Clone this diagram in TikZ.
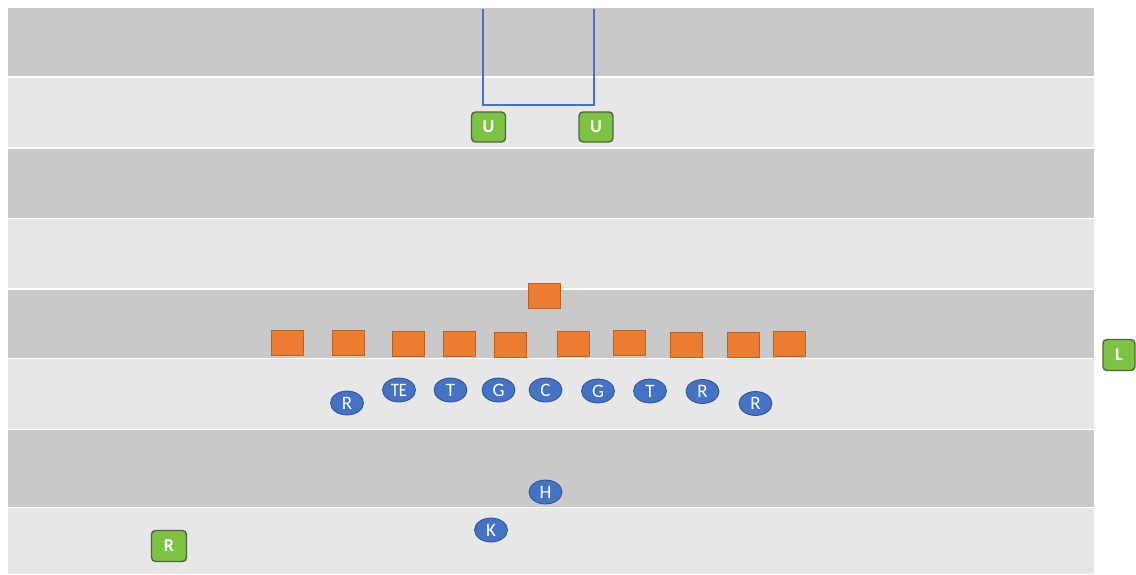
\documentclass[tikz,border=0pt]{standalone}
\usepackage{fontspec}
\setmainfont{Carlito}
\usetikzlibrary{shapes.geometric}
\definecolor{darkstripe}{HTML}{C9C9C9}
\definecolor{lightstripe}{HTML}{E7E7E7}
\definecolor{orfill}{HTML}{ED7D31}
\definecolor{ordraw}{HTML}{C0601F}
\definecolor{blfill}{HTML}{4472C4}
\definecolor{bldraw}{HTML}{2F528F}
\definecolor{grfill}{HTML}{7DC242}
\definecolor{grdraw}{HTML}{4F6640}
\definecolor{routeblue}{HTML}{4472C4}
\tikzset{
  dstripe/.style={fill=darkstripe, draw=none},
  lstripe/.style={fill=lightstripe, draw=none},
  defender/.style={rectangle, fill=orfill, draw=ordraw, line width=0.8pt, minimum width=32pt, minimum height=25pt, inner sep=0pt},
  player/.style={ellipse, fill=blfill, draw=bldraw, line width=0.8pt, minimum width=33pt, minimum height=24pt, inner sep=0pt, text=white, font=\fontsize{19}{19}\selectfont},
  greenbox/.style={rectangle, rounded corners=4pt, fill=grfill, draw=grdraw, line width=1.4pt, minimum width=34pt, minimum height=30pt, inner sep=0pt, text=white, font=\fontsize{18}{18}\selectfont\bfseries},
  route/.style={draw=routeblue, line width=1.2pt}
}
\begin{document}
\begin{tikzpicture}[x=1pt,y=-1pt]
\useasboundingbox (0,0) rectangle (1136,574);
\fill[white] (0,0) rectangle (1136,574);
% field stripes
\path[dstripe] (8,8) rectangle (1094,76);
\path[lstripe] (8,77.5) rectangle (1094,147);
\path[dstripe] (8,148.5) rectangle (1094,217.5);
\path[lstripe] (8,219) rectangle (1094,288);
\path[dstripe] (8,289.5) rectangle (1094,357.5);
\path[lstripe] (8,359) rectangle (1094,428.5);
\path[dstripe] (8,430) rectangle (1094,506.5);
\path[lstripe] (8,508) rectangle (1094,574);
% uprights
\coordinate (pl) at (483,9);
\coordinate (bl) at (483,105);
\coordinate (br) at (594,105);
\coordinate (pr) at (594,9);
\draw[route] (pl) -- (bl) -- (br) -- (pr);
% green boxes
\node[greenbox] (u1) at (488.5,127) {U};
\node[greenbox] (u2) at (596,127) {U};
\node[greenbox, minimum width=32pt, minimum height=31pt] (l) at (1119,355) {L};
\node[greenbox, minimum width=35pt, minimum height=31pt] (r) at (169,546) {R};
% defenders
\node[defender] (d0) at (544,295.5) {};
\node[defender] (d1) at (287,342.5) {};
\node[defender] (d2) at (348,342.5) {};
\node[defender] (d3) at (408.5,344) {};
\node[defender] (d4) at (459,344) {};
\node[defender] (d5) at (510.5,345) {};
\node[defender] (d6) at (573,344) {};
\node[defender] (d7) at (629.5,343) {};
\node[defender] (d8) at (686,344.5) {};
\node[defender] (d9) at (743.5,344.5) {};
\node[defender] (d10) at (789.5,344) {};
% offense
\node[player] (rl) at (347,403) {R};
\node[player] (te) at (399,390) {\scalebox{0.85}[1]{TE}};
\node[player] (tl) at (450.5,390) {T};
\node[player] (gl) at (498.5,390) {G};
\node[player] (c) at (545.5,390) {C};
\node[player] (gr) at (598,391) {G};
\node[player] (tr) at (650,391) {T};
\node[player] (rr) at (702.5,391.5) {R};
\node[player] (rr2) at (755.5,403.5) {R};
\node[player] (h) at (545.5,492) {H};
\node[player] (k) at (491,530) {K};
\end{tikzpicture}
\end{document}
